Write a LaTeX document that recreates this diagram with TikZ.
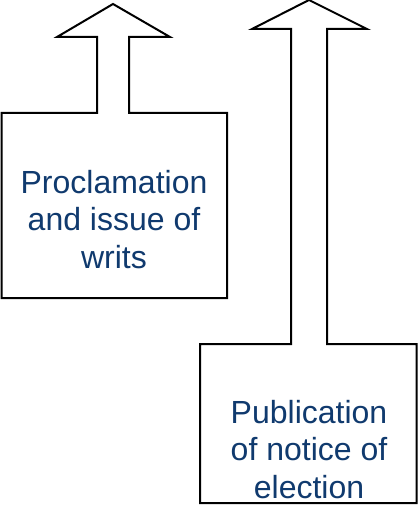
\documentclass[tikz,border=0pt]{standalone}
\usepackage{fontspec}
\setmainfont{Liberation Sans}
\usetikzlibrary{calc}
\definecolor{step_blue}{RGB}{16, 58, 110}
\tikzstyle{callout}=[draw=black,line width=2pt,fill=white,line join=miter]
\tikzstyle{steptext}=[text=step_blue,align=center,inner sep=0pt,anchor=north,
  font=\fontsize{32}{37.5}\selectfont]

\begin{document}
\begin{tikzpicture}[x=1pt,y=-1pt]
            \useasboundingbox (0,0) rectangle (419,505);
            % first step, box with arrow up
            \draw [style=callout] (1.5,113) -- (97,113) -- (97,37) -- (57,37) -- (113,4)
              -- (170,37) -- (129,37) -- (129,113) -- (227,113) -- (227,298)
              -- (1.5,298) -- cycle;
            \node [style=steptext] (proclamation) at (114, 170) {Proclamation\\and issue of\\writs};
            % second step
            \draw [style=callout] (200,344) -- (291,344) -- (291,29) -- (252,29) -- (309,0)
              -- (367,29) -- (327,29) -- (327,344) -- (416.5,344) -- (416.5,503)
              -- (200,503) -- cycle;
            \node [style=steptext] (publication) at (309, 400) {Publication\\of notice of\\election};
    \end{tikzpicture}
\end{document}
